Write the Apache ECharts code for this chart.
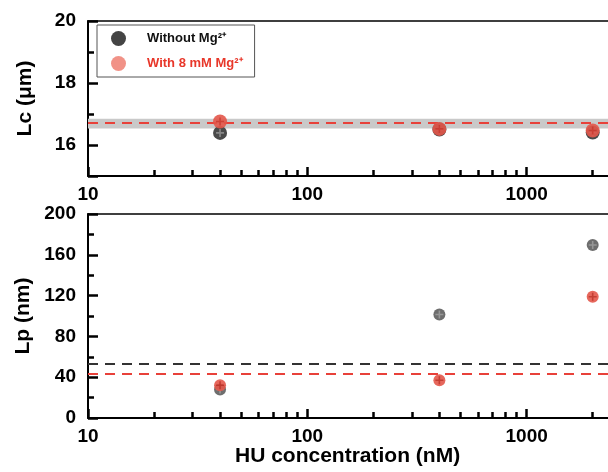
<!DOCTYPE html>
<html><head><meta charset="utf-8">
<script src="https://cdn.jsdelivr.net/npm/echarts@6/dist/echarts.min.js"></script>
<style>html,body{margin:0;padding:0;background:#fff}#c{width:608px;height:472px}</style>
</head><body><div id="c"></div>
<script>
// ---- data ----
var concentrations = [40, 400, 2000];            // HU concentration (nM)
var lcWithout = [16.39, 16.50, 16.40];           // Lc (µm), without Mg2+
var lcWith = [16.76, 16.52, 16.47];              // Lc (µm), with 8 mM Mg2+
var lpWithout = [27.9, 101.5, 169.6];            // Lp (nm), without Mg2+
var lpWith = [32.1, 37.0, 118.9];                // Lp (nm), with 8 mM Mg2+
var lcBand = [16.53, 16.85];                     // grey band in Lc panel
var lcMeanWith = 16.73;                          // red dashed line, Lc panel
var lpMeanWithout = 53.4;                        // black dashed line, Lp panel
var lpMeanWith = 43.2;                           // red dashed line, Lp panel
var xMajorTicks = [10, 100, 1000];
var xMinorTicks = [20,30,40,50,60,70,80,90,200,300,400,500,600,700,800,900,2000,3000,4000,5000];
var lcMajorTicks = [15, 16, 18, 20];
var lcLabels = [16, 18, 20];
var lcMinorTicks = [17, 19];
var lpMajorTicks = [0, 40, 80, 120, 160, 200];
var lpMinorTicks = [20, 60, 100, 140, 180];
var seriesNames = ['Without Mg²⁺', 'With 8 mM Mg²⁺'];

function pts(xs, ys){ return xs.map(function(x,i){ return [x, ys[i]]; }); }

var FONT = '"Liberation Sans", Arial, sans-serif';
var BLACK = '#4a4a4a', RED = '#e3574a';
var plusPath = 'path://M4,0h2v10h-2z M0,4h10v2h-10z';

function xAxes(grid){
  return [
    { type:'log', gridIndex:grid, min:10, max:10000, logBase:10, position:'bottom',
      axisLine:{lineStyle:{color:'#000', width:2}},
      axisTick:{inside:true, length:9, customValues:xMajorTicks, lineStyle:{color:'#000', width:2.5}},
      axisLabel:{customValues:xMajorTicks, formatter:function(v){return String(Math.round(v));},
        color:'#000', fontFamily:FONT, fontWeight:'bold', fontSize:19, margin:9},
      splitLine:{show:false}, minorTick:{show:false} },
    { type:'log', gridIndex:grid, min:10, max:10000, logBase:10, position:'bottom',
      axisLine:{show:false},
      axisTick:{inside:true, length:6, customValues:xMinorTicks, lineStyle:{color:'#000', width:2.5}},
      axisLabel:{show:false}, splitLine:{show:false} },
    { type:'log', gridIndex:grid, min:10, max:10000, logBase:10, position:'top',
      axisLine:{lineStyle:{color:'#000', width:1.5}},
      axisTick:{show:false}, axisLabel:{show:false}, splitLine:{show:false} }
  ];
}

var option = {
  animation:false,
  backgroundColor:'#fff',
  grid:[
    {left:88, top:21, height:155, width:658, containLabel:false, outerBoundsMode:'none'},
    {left:88, top:214, height:204, width:658, containLabel:false, outerBoundsMode:'none'}
  ],
  xAxis: xAxes(0).concat(xAxes(1)),
  yAxis:[
    { type:'value', gridIndex:0, min:15, max:20, position:'left',
      name:'Lc (μm)', nameLocation:'middle', nameGap:52, nameRotate:90,
      nameTextStyle:{color:'#000', fontFamily:FONT, fontWeight:'bold', fontSize:21},
      axisLine:{lineStyle:{color:'#000', width:2}},
      axisTick:{inside:true, length:10, customValues:lcMajorTicks, lineStyle:{color:'#000', width:2.5}},
      axisLabel:{customValues:lcLabels, color:'#000', fontFamily:FONT, fontWeight:'bold', fontSize:19, margin:12},
      splitLine:{show:false} },
    { type:'value', gridIndex:0, min:15, max:20, position:'left',
      axisLine:{show:false},
      axisTick:{inside:true, length:6, customValues:lcMinorTicks, lineStyle:{color:'#000', width:2.5}},
      axisLabel:{show:false}, splitLine:{show:false} },
    { type:'value', gridIndex:1, min:0, max:200, interval:40, position:'left',
      name:'Lp (nm)', nameLocation:'middle', nameGap:50, nameRotate:90,
      nameTextStyle:{color:'#000', fontFamily:FONT, fontWeight:'bold', fontSize:21},
      axisLine:{lineStyle:{color:'#000', width:2}},
      axisTick:{inside:true, length:10, customValues:lpMajorTicks, lineStyle:{color:'#000', width:2.5}},
      axisLabel:{color:'#000', fontFamily:FONT, fontWeight:'bold', fontSize:19, margin:12},
      splitLine:{show:false} },
    { type:'value', gridIndex:1, min:0, max:200, position:'left',
      axisLine:{show:false},
      axisTick:{inside:true, length:6, customValues:lpMinorTicks, lineStyle:{color:'#000', width:2.5}},
      axisLabel:{show:false}, splitLine:{show:false} }
  ],
  legend:{
    left:97, top:25, orient:'vertical', itemGap:10, itemWidth:15, itemHeight:15,
    borderColor:'#555', borderWidth:1, padding:[6,12,6,14],
    icon:'circle',
    textStyle:{fontFamily:FONT, fontWeight:'bold', fontSize:13, padding:[0,0,0,16]},
    data:[
      {name:seriesNames[0], itemStyle:{color:'#444'}, textStyle:{color:'#111'}},
      {name:seriesNames[1], itemStyle:{color:'#f0867a'}, textStyle:{color:'#e8372a'}}
    ]
  },
  graphic:[
    {type:'text', left:235, top:446, style:{text:'HU concentration (nM)', fill:'#000',
      font:'bold 21px "Liberation Sans", Arial, sans-serif'}}
  ],
  series:[
    // band + red mean line (Lc)
    { type:'line', xAxisIndex:0, yAxisIndex:0, data:[], silent:true,
      markArea:{silent:true, itemStyle:{color:'#c9c9c9'}, data:[[{yAxis:lcBand[0]},{yAxis:lcBand[1]}]]},
      markLine:{silent:true, symbol:'none', label:{show:false},
        lineStyle:{color:'#e8413a', type:[10,7], width:2}, data:[{yAxis:lcMeanWith}]} },
    { name:seriesNames[0], type:'scatter', xAxisIndex:0, yAxisIndex:0, data:pts(concentrations, lcWithout),
      symbolSize:14, itemStyle:{color:BLACK, opacity:1}, z:3 },
    { type:'scatter', xAxisIndex:0, yAxisIndex:0, data:pts(concentrations, lcWithout),
      symbol:plusPath, symbolSize:8, itemStyle:{color:'rgba(170,170,170,0.8)'}, z:4 },
    { name:seriesNames[1], type:'scatter', xAxisIndex:0, yAxisIndex:0, data:pts(concentrations, lcWith),
      symbolSize:14, itemStyle:{color:RED, opacity:0.9}, z:5 },
    { type:'scatter', xAxisIndex:0, yAxisIndex:0, data:pts(concentrations, lcWith),
      symbol:plusPath, symbolSize:8, itemStyle:{color:'rgba(190,40,30,0.7)'}, z:6 },
    // Lp panel
    { type:'line', xAxisIndex:3, yAxisIndex:2, data:[], silent:true,
      markLine:{silent:true, symbol:'none', label:{show:false},
        data:[
          {yAxis:lpMeanWithout, lineStyle:{color:'#333', type:[10,7], width:2}},
          {yAxis:lpMeanWith, lineStyle:{color:'#e8413a', type:[10,7], width:2}}
        ]} },
    { name:seriesNames[0], type:'scatter', xAxisIndex:3, yAxisIndex:2, data:pts(concentrations, lpWithout),
      symbolSize:12, itemStyle:{color:BLACK}, z:3 },
    { type:'scatter', xAxisIndex:3, yAxisIndex:2, data:pts(concentrations, lpWithout),
      symbol:plusPath, symbolSize:8, itemStyle:{color:'rgba(170,170,170,0.85)'}, z:4 },
    { name:seriesNames[1], type:'scatter', xAxisIndex:3, yAxisIndex:2, data:pts(concentrations, lpWith),
      symbolSize:12, itemStyle:{color:RED, opacity:0.9}, z:5 },
    { type:'scatter', xAxisIndex:3, yAxisIndex:2, data:pts(concentrations, lpWith),
      symbol:plusPath, symbolSize:8, itemStyle:{color:'rgba(170,30,20,0.7)'}, z:6 }
  ]
};
var chart = echarts.init(document.getElementById('c'), null, {renderer:'canvas'});
chart.setOption(option);
</script></body></html>
